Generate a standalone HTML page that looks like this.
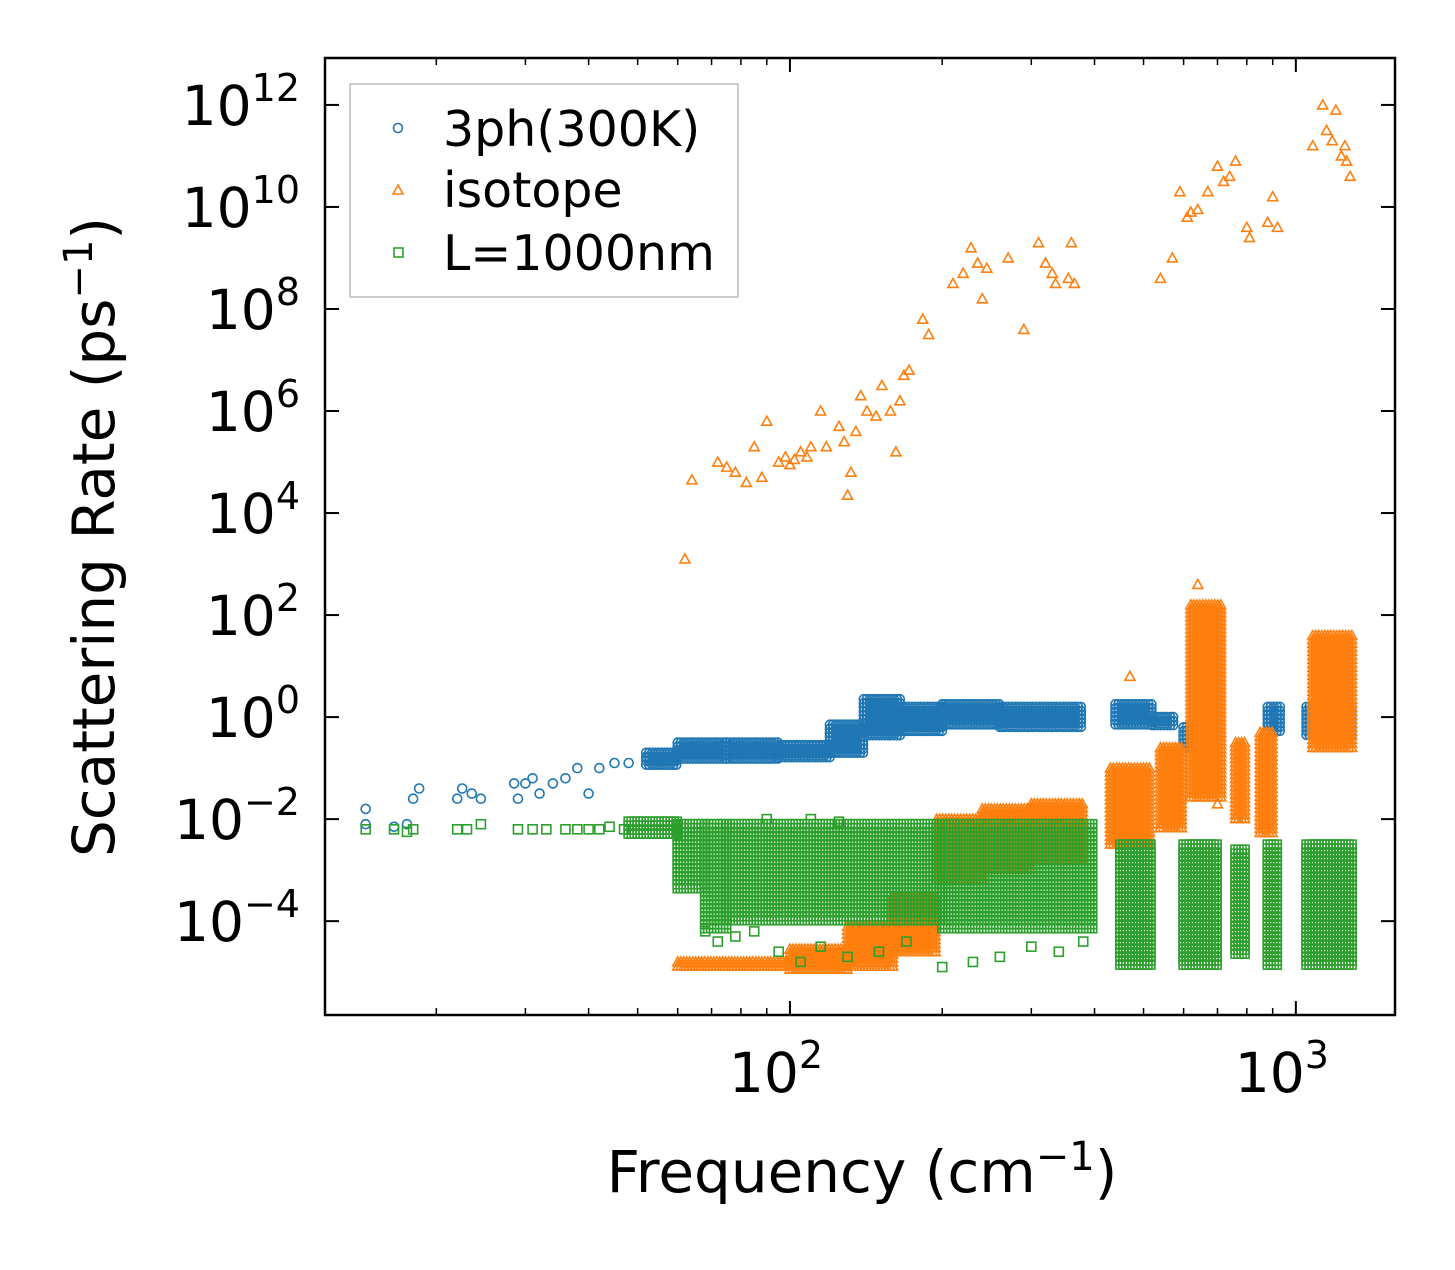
<!DOCTYPE html>
<html><head><meta charset="utf-8"><style>
body{margin:0;background:#fff;width:1455px;height:1265px;overflow:hidden}
svg{font-family:"DejaVu Sans","Liberation Sans",sans-serif}
</style></head><body>
<svg id="chart" width="1455" height="1265">
<g id="marks"></g>
<rect x="325" y="58" width="1070" height="957" fill="none" stroke="#000" stroke-width="2.5"/>
<g id="axes"></g>
<text x="862" y="1192" font-size="58" text-anchor="middle">Frequency (cm<tspan dy="-22" font-size="40">−1</tspan><tspan dy="22">)</tspan></text>
<text transform="translate(114,537) rotate(-90)" font-size="58" text-anchor="middle">Scattering Rate (ps<tspan dy="-22" font-size="40">−1</tspan><tspan dy="22">)</tspan></text>
<g>
<rect x="350" y="84" width="388" height="213" fill="#fff" fill-opacity="0.85" stroke="#bbb" stroke-width="1.5"/>
<circle cx="398" cy="128" r="4.5" fill="none" stroke="#1f77b4" stroke-width="1.6"/>
<text x="443" y="146" font-size="49">3ph(300K)</text>
<path d="M393,194 L403,194 L398,185 Z" fill="none" stroke="#ff7f0e" stroke-width="1.6"/>
<text x="443" y="207" font-size="49">isotope</text>
<rect x="394" y="248" width="9" height="9" fill="none" stroke="#2ca02c" stroke-width="1.6"/>
<text x="443" y="270" font-size="49">L=1000nm</text>
</g>
</svg>
<script>
const blueFreq=[14.5,14.5,16.5,17.5,18,18.5,22,22.5,23.5,24.5,28.5,29,30,31,32,34,36,38,40,42,45,48,52];
const blueExp=[-1.8,-2.1,-2.15,-2.1,-1.6,-1.4,-1.6,-1.4,-1.5,-1.6,-1.3,-1.6,-1.3,-1.2,-1.5,-1.3,-1.2,-1.0,-1.5,-1.0,-0.9,-0.9,-0.8];
const blueBands=[[52,60,-0.95,-0.7],[60,75,-0.85,-0.5],[75,95,-0.85,-0.5],[95,120,-0.85,-0.55],[120,140,-0.7,-0.15],[140,165,-0.4,0.35],[165,200,-0.3,0.2],[200,260,-0.2,0.25],[260,380,-0.25,0.2],[440,520,-0.15,0.25],[520,580,-0.2,0.0],[600,680,-0.6,-0.2],[880,930,-0.3,0.2],[1050,1300,-0.4,0.2]];
const orangeFreq=[62,64,72,75,78,82,85,88,90,95,98,100,102,105,108,110,115,118,125,128,130,132,135,138,142,148,152,158,162,165,168,172,183,188,210,220,228,235,240,245,270,290,310,320,330,335,355,360,365,540,570,590,610,620,640,670,700,720,740,760,800,810,880,900,920,1080,1130,1150,1180,1200,1230,1250,1260,1280,470,640,700];
const orangeExp=[3.1,4.65,5.0,4.9,4.8,4.6,5.3,4.7,5.8,5.0,5.1,4.95,5.05,5.2,5.1,5.3,6.0,5.3,5.7,5.4,4.35,4.8,5.6,6.3,6.0,5.9,6.5,6.0,5.2,6.2,6.7,6.8,7.8,7.5,8.5,8.7,9.2,8.9,8.2,8.8,9.0,7.6,9.3,8.9,8.7,8.5,8.6,9.3,8.5,8.6,9.0,10.3,9.8,9.9,9.95,10.3,10.8,10.5,10.6,10.9,9.6,9.4,9.7,10.2,9.6,11.2,12.0,11.5,11.3,11.9,11.0,11.2,10.9,10.6,0.8,2.6,-1.7];
const orangeBands=[[60,100,-4.95,-4.8],[100,130,-4.95,-4.55],[130,160,-4.9,-4.1],[160,195,-4.6,-3.5],[195,240,-3.2,-2.0],[240,300,-3.0,-1.8],[300,380,-2.8,-1.7],[430,520,-2.5,-1.0],[540,600,-2.2,-0.6],[620,720,-1.6,2.2],[760,800,-2.0,-0.5],[850,910,-2.3,-0.3],[1080,1300,-0.6,1.6]];
const greenFreq=[14.5,16.5,17.5,18,22,23,24.5,29,31,33,36,38,40,42,44,47,68,72,78,85,95,105,115,130,150,170,200,230,260,300,340,380,90,110,125];
const greenExp=[-2.2,-2.2,-2.25,-2.2,-2.2,-2.2,-2.1,-2.2,-2.2,-2.2,-2.2,-2.2,-2.2,-2.2,-2.15,-2.2,-4.2,-4.4,-4.3,-4.2,-4.6,-4.8,-4.5,-4.7,-4.6,-4.4,-4.9,-4.8,-4.7,-4.5,-4.6,-4.4,-2.0,-2.0,-2.05];
const greenBands=[[48,60,-2.35,-2.05],[60,68,-3.4,-2.1],[68,75,-4.2,-2.1],[75,200,-4.0,-2.1],[200,400,-4.2,-2.1],[450,520,-4.9,-2.5],[600,700,-4.9,-2.5],[760,800,-4.7,-2.6],[880,920,-4.9,-2.5],[1050,1300,-4.9,-2.5]];
const xTickExp=[2,3];
const yTickExp=[-4,-2,0,2,4,6,8,10,12];

const X0=325,X1=1395,Y0=58,Y1=1015;
const xLo=1.081,xHi=3.196,yLo=-5.84,yHi=12.92;
function xs(f){return X0+(Math.log10(f)-xLo)/(xHi-xLo)*(X1-X0);}
function ys(e){return Y1-(e-yLo)/(yHi-yLo)*(Y1-Y0);}
const NS='http://www.w3.org/2000/svg';
const marks=document.getElementById('marks');
const axes=document.getElementById('axes');
function mk(tag,attrs,parent){const el=document.createElementNS(NS,tag);for(const k in attrs)el.setAttribute(k,attrs[k]);parent.appendChild(el);return el;}
function marker(type,px,py,g){
  let el;
  if(type==='c'){el=mk('circle',{cx:px,cy:py,r:4.5},g);}
  else if(type==='t'){el=mk('path',{d:`M${px-5},${py+4} L${px+5},${py+4} L${px},${py-5} Z`},g);}
  else {el=mk('rect',{x:px-4.5,y:py-4.5,width:9,height:9},g);}
  return el;
}
function series(name,type,color,fr,ex,bands){
  const g=mk('g',{fill:'none',stroke:color,'stroke-width':1.6},marks);
  
  
  for(let i=0;i<fr.length;i++){const m=marker(type,xs(fr[i]),ys(ex[i]),g);
    
    }
  for(const b of bands){
    const xa=xs(b[0]),xb=xs(b[1]),ya=ys(b[3]),yb=ys(b[2]);
    const bg=mk('g',{},g);
    
    
    for(let x=xa;x<=xb;x+=3){for(let y=ya;y<=yb;y+=4){marker(type,x,y,bg);}}
  }
}
series('3ph-series','c','#1f77b4',blueFreq,blueExp,blueBands);
series('isotope-series','t','#ff7f0e',orangeFreq,orangeExp,orangeBands);
series('boundary-series','s','#2ca02c',greenFreq,greenExp,greenBands);

for(const e of xTickExp){const x=xs(Math.pow(10,e));
  mk('line',{x1:x,x2:x,y1:Y1,y2:Y1-14,stroke:'#000','stroke-width':2},axes);
  mk('line',{x1:x,x2:x,y1:Y0,y2:Y0+14,stroke:'#000','stroke-width':2},axes);
  const t=mk('text',{x:x-14,y:1092,'font-size':55,'text-anchor':'middle'},axes);
  
  
  t.innerHTML='10<tspan dy="-24" font-size="38">'+e+'</tspan>';
}
for(let d=1;d<=3;d++){for(let k=2;k<=9;k++){const f=k*Math.pow(10,d);const x=xs(f);if(x<X0||x>X1)continue;
  mk('line',{x1:x,x2:x,y1:Y1,y2:Y1-7,stroke:'#000','stroke-width':1.5},axes);
  mk('line',{x1:x,x2:x,y1:Y0,y2:Y0+7,stroke:'#000','stroke-width':1.5},axes);}}
for(const e of yTickExp){const y=ys(e);
  mk('line',{x1:X0,x2:X0+14,y1:y,y2:y,stroke:'#000','stroke-width':2},axes);
  mk('line',{x1:X1,x2:X1-14,y1:y,y2:y,stroke:'#000','stroke-width':2},axes);
  const t=mk('text',{x:300,y:y+20,'font-size':55,'text-anchor':'end'},axes);
  
  
  const s=e<0?'−'+(-e):''+e;
  t.innerHTML='10<tspan dy="-24" font-size="38">'+s+'</tspan>';
}
</script>
</body></html>
